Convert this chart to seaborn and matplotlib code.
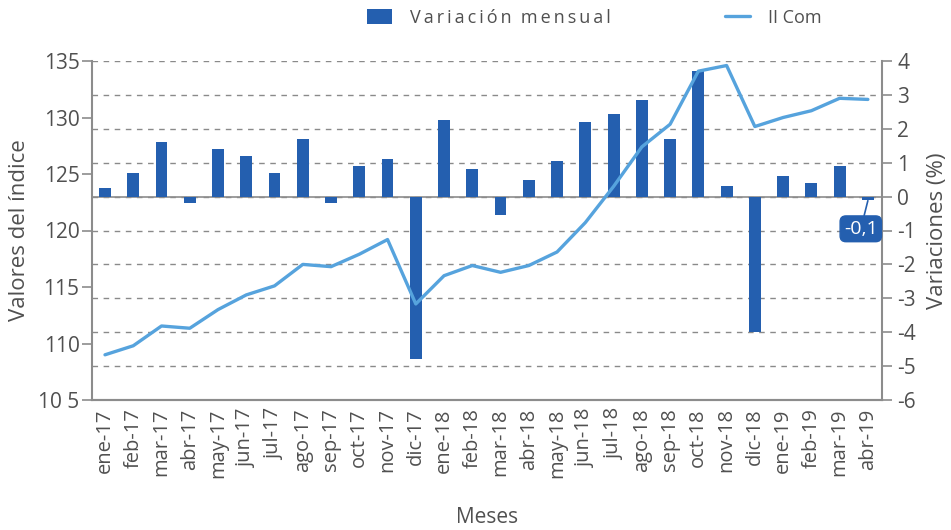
import matplotlib
matplotlib.use("Agg")
import matplotlib.pyplot as plt
import seaborn as sns
import pandas as pd
import numpy as np
from matplotlib.lines import Line2D
from matplotlib.patches import Patch

meses = ["ene-17", "feb-17", "mar-17", "abr-17", "may-17", "jun-17", "jul-17",
         "ago-17", "sep-17", "oct-17", "nov-17", "dic-17",
         "ene-18", "feb-18", "mar-18", "abr-18", "may-18", "jun-18", "jul-18",
         "ago-18", "sep-18", "oct-18", "nov-18", "dic-18",
         "ene-19", "feb-19", "mar-19", "abr-19"]
variacion = [0.25, 0.7, 1.6, -0.2, 1.4, 1.2, 0.7, 1.7, -0.2, 0.9, 1.1, -4.8,
             2.25, 0.8, -0.55, 0.5, 1.05, 2.2, 2.45, 2.85, 1.7, 3.7, 0.3, -4.0,
             0.6, 0.4, 0.9, -0.1]
indice = [109.0, 109.8, 111.55, 111.35, 113.0, 114.3, 115.1, 117.0, 116.8, 117.9,
          119.2, 113.5, 116.0, 116.9, 116.3, 116.9, 118.1, 120.7, 123.9, 127.4,
          129.4, 134.1, 134.6, 129.2, 130.0, 130.6, 131.7, 131.6]
left_ticks = [105, 110, 115, 120, 125, 130, 135]
right_ticks = [4, 3, 2, 1, 0, -1, -2, -3, -4, -5, -6]

df = pd.DataFrame({"mes": meses, "variacion": variacion, "indice": indice})

sns.set_style("white")
plt.rcParams["font.family"] = ["Open Sans", "DejaVu Sans"]

grey = "#505050"
spine = "#8c8c8c"
bar_color = "#245FAF"
line_color = "#56A3DD"

fig = plt.figure(figsize=(9.51, 5.30), dpi=100)
ax = fig.add_axes([92/951, 1-400/530, (882-92)/951, (400-61)/530])
ax2 = ax.twinx()

sns.barplot(data=df, x="mes", y="variacion", ax=ax2, color=bar_color,
            width=0.42, saturation=1, edgecolor="none", zorder=3)
ax2.set_ylim(-6, 4)
ax2.set_yticks(right_ticks)
ax2.set_yticklabels([str(t) for t in right_ticks])
ax2.yaxis.grid(True, color="#8a8a8a", linestyle=(0, (4, 4)), linewidth=1.0, zorder=0)
ax2.axhline(0, color=spine, linewidth=1.2, zorder=2)
ax2.set_ylabel("Variaciones (%)", color=grey, fontsize=16, labelpad=8)

x = np.arange(len(meses))
sns.lineplot(x=x, y=df["indice"], ax=ax, color=line_color, linewidth=2.4, zorder=5)
ax.set_ylim(105, 135)
ax.set_yticks(left_ticks)
ax.set_yticklabels(["10 5" if t == 105 else str(t) for t in left_ticks])
ax.set_xlim(-0.46, 27.5)
ax2.set_xlim(-0.46, 27.5)
ax.set_zorder(ax2.get_zorder() + 1)
ax.patch.set_visible(False)
ax.set_ylabel("Valores del índice", color=grey, fontsize=16, labelpad=6)
ax.set_xlabel("Meses", color=grey, fontsize=15, labelpad=21)
ax2.set_xlabel("")
ax.set_xticks(x)
ax.set_xticklabels(meses, rotation=90)

for a in (ax, ax2):
    for s in a.spines.values():
        s.set_color(spine)
        s.set_linewidth(1.5)
    a.spines["top"].set_visible(False)
ax.spines["right"].set_visible(False)
ax2.spines["left"].set_visible(False)
ax.tick_params(axis="y", colors=grey, labelsize=15, length=7, width=1.2, color=spine, direction="out", pad=2)
ax.tick_params(axis="x", colors=grey, labelsize=14.5, length=0, pad=6)
ax2.tick_params(axis="y", colors=grey, labelsize=15, length=7, width=1.2, color=spine, direction="out", pad=4)
ax2.tick_params(axis="x", length=0, labelbottom=False)

# data label
ax2.annotate("-0,1", xy=(27, -0.12), xytext=(26.75, -0.95),
             ha="center", va="center", color="white", fontsize=14,
             bbox=dict(boxstyle="round,pad=0.2,rounding_size=0.3", fc=bar_color, ec=bar_color),
             arrowprops=dict(arrowstyle="-", color=bar_color, lw=1.2, shrinkA=0, shrinkB=0),
             zorder=6)

handles = [Patch(facecolor=bar_color, edgecolor="none"),
           Line2D([0], [0], color=line_color, lw=2.4)]
label1 = "\u2009".join("Variación") + "  " + "\u2009".join("mensual")
fig.legend(handles, [label1, "II Com"],
           loc="center", bbox_to_anchor=(0.625, 0.966), ncol=2, frameon=False,
           fontsize=13, labelcolor=grey, columnspacing=6.3, handlelength=1.4,
           handleheight=0.9, handletextpad=1.0)

fig.savefig("out.png", dpi=100)
